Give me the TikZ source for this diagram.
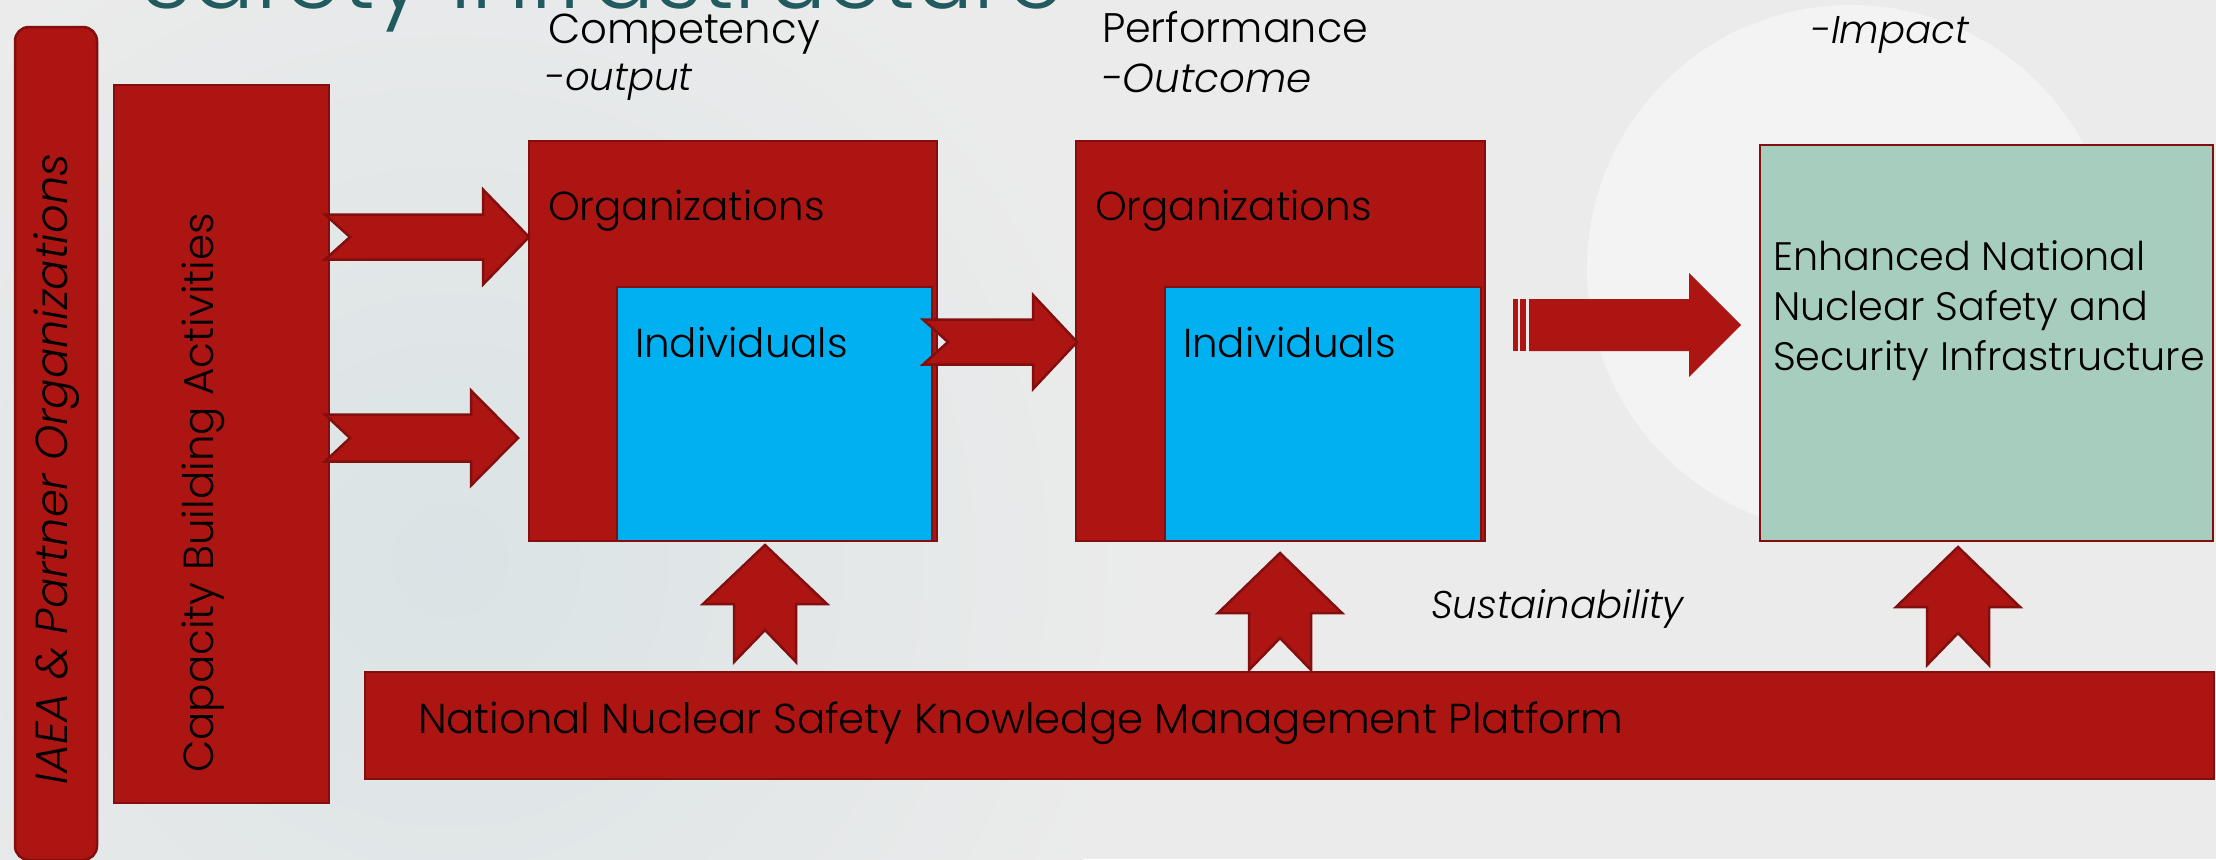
\documentclass[tikz,border=0pt]{standalone}
\usepackage{fontspec}
\IfFontExistsTF{Poppins Light}{%
  \IfFontExistsTF{Poppins Light Italic}{%
    \setmainfont{Poppins Light}[ItalicFont={Poppins Light Italic}]}{%
    \setmainfont{Poppins Light}}}{%
  \setmainfont{Poppins}}
\usepackage{tikz}
\usetikzlibrary{positioning}

\definecolor{boxred}{HTML}{AD1513}
\definecolor{edgered}{HTML}{820E0E}
\definecolor{indblue}{HTML}{00B0F0}
\definecolor{impactgreen}{HTML}{A6CDBD}
\definecolor{titleteal}{HTML}{215B60}
\definecolor{bg}{HTML}{EBEBEB}
\definecolor{glow}{HTML}{F3F3F3}
\definecolor{haze}{HTML}{DAE3E5}

\tikzset{
    every node/.style={inner sep=0pt, outer sep=0pt}
}
\tikzset{
    redbox/.style={rectangle, fill=boxred, draw=edgered, line width=0.25mm},
    bluebox/.style={rectangle, fill=indblue, draw=edgered, line width=0.25mm},
    greenbox/.style={rectangle, fill=impactgreen, draw=edgered, line width=0.25mm}
}
\tikzset{
    lbl/.style={anchor=base west, font=\fontsize{#1}{15}\selectfont},
    lbl/.default=11.5,
    ilbl/.style={anchor=base west, font=\fontsize{#1}{15}\selectfont\itshape},
    ilbl/.default=11,
    blockarrow/.style={fill=boxred, draw=edgered, line width=0.25mm, line join=miter}
}

\begin{document}
\begin{tikzpicture}[x=0.1mm, y=-0.1mm]
  \useasboundingbox (0,0) rectangle (2216,859);
  \clip (0,0) rectangle (2216,859);
  \fill[bg] (0,0) rectangle (2216,859);
  \shade[inner color=haze, outer color=bg] (450,560) circle (70mm);
  \fill[glow] (1851,269) circle (26.4mm);

  \node (title) [anchor=base west, text=titleteal,
    font=\fontsize{26.2}{30}\selectfont] at (140,8) {Safety Infrastructure};

  % boxes
  \node (iaea) [redbox, rounded corners=1.4mm, minimum width=8.2mm,
    minimum height=83.3mm] at (56,443.5) {};
  \node (cba) [redbox, minimum width=21.5mm, minimum height=71.8mm] at (221.5,444) {};
  \node (org1) [redbox, minimum width=40.8mm, minimum height=40mm] at (733,341) {};
  \node (ind1) [bluebox, minimum width=31.5mm, minimum height=25.4mm] at (774.5,414) {};
  \node (org2) [redbox, minimum width=40.9mm, minimum height=40mm] at (1280.5,341) {};
  \node (ind2) [bluebox, minimum width=31.6mm, minimum height=25.4mm] at (1323,414) {};
  \node (impactbox) [greenbox, minimum width=45.3mm, minimum height=39.6mm] at (1986.5,343) {};
  \node (kmp) [redbox, minimum width=184.9mm, minimum height=10.7mm] at (1289.5,725.5) {};

  % block arrows
  \foreach \xa/\xh/\xt/\yc/\hs/\hh in {325/483/529/237/22.5/47.5,
      325/471/518/438/23.5/47.5, 923/1033/1077/342/22.5/47}
    \draw[blockarrow] (\xa,\yc-\hs) -- (\xh,\yc-\hs) -- (\xh,\yc-\hh) -- (\xt,\yc)
      -- (\xh,\yc+\hh) -- (\xh,\yc+\hs) -- (\xa,\yc+\hs) -- (\xa+25,\yc) -- cycle;
  \foreach \xc/\yt/\yb/\yd in {765/545/604/662, 1280/553/613/670, 1958/547/607/665}
    \draw[blockarrow] (\xc,\yt) -- (\xc+62,\yb) -- (\xc+31,\yb) -- (\xc+31,\yd)
      -- (\xc,\yd-32) -- (\xc-31,\yd) -- (\xc-31,\yb) -- (\xc-62,\yb) -- cycle;
  \fill[boxred] (1513,299) rectangle (1518,351);
  \fill[boxred] (1520,299) rectangle (1526,351);
  \fill[boxred] (1529,299) -- (1689,299) -- (1689,273) -- (1741,325)
    -- (1689,377) -- (1689,351) -- (1529,351) -- cycle;

  % labels
  \node (iaeatxt) [ilbl=12.75, anchor=center, rotate=90] at (57,469) {IAEA \& Partner Organizations};
  \node (cbatxt) [lbl=11.95, anchor=center, rotate=90] at (203,493) {Capacity Building Activities};
  \node (orgtxt1) [lbl] at (548,220) {Organizations};
  \node (indtxt1) [lbl] at (635,357) {Individuals};
  \node (orgtxt2) [lbl] at (1095,220) {Organizations};
  \node (indtxt2) [lbl] at (1183,357) {Individuals};
  \node (comp) [lbl=11.9] at (548,43) {Competency};
  \node (outp) [ilbl] at (545,90) {-output};
  \node (perf) [lbl=11.75] at (1102,42) {Performance};
  \node (outc) [ilbl=11.5] at (1102,92) {-Outcome};
  \node (impact) [ilbl] at (1811,43) {-Impact};
  \node (sust) [ilbl] at (1431,618) {Sustainability};
  \node (kmtxt) [lbl=11.9] at (418,733) {National Nuclear Safety Knowledge Management Platform};
  \node (enhtxt) [anchor=base west, align=left, font=\fontsize{11.3}{14.2}\selectfont]
    at (1773,370) {Enhanced National\\Nuclear Safety and\\Security Infrastructure};
\end{tikzpicture}
\end{document}
